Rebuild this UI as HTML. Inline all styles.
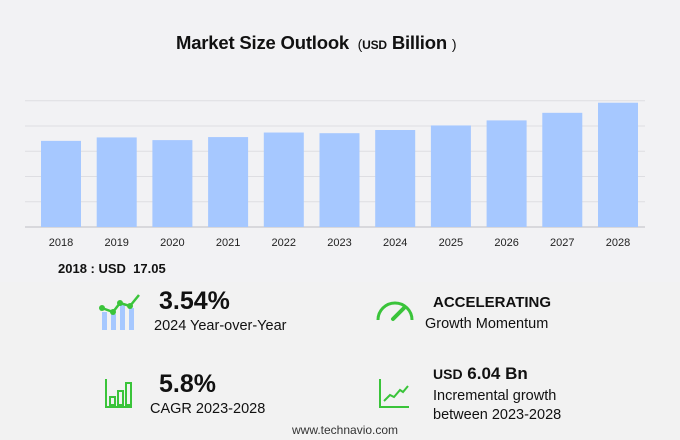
<!DOCTYPE html>
<html><head><meta charset="utf-8"><style>
body{margin:0;width:680px;height:440px;background:#f2f2f4;font-family:"Liberation Sans",sans-serif;position:relative;overflow:hidden}
.t{position:absolute;white-space:nowrap;color:#111}
</style></head><body>
<div class="t" style="left:176px;top:32px;font-size:18.5px;font-weight:bold;letter-spacing:-0.2px">Market Size Outlook <span style="font-weight:normal;font-size:14px">&nbsp;(</span><span style="font-size:12px">USD</span> Billion <span style="font-weight:normal;font-size:14px">)</span></div>
<svg id="chart" width="680" height="260" style="position:absolute;left:0;top:0"></svg>
<div class="t" style="left:58px;top:261px;font-size:13px;font-weight:bold">2018 : USD&nbsp; 17.05</div>
<div style="position:absolute;left:0;top:282px;width:680px;height:158px;background:#f2f2f2"></div>
<svg width="46" height="40" style="position:absolute;left:99px;top:292px">
<rect x="3" y="20" width="5" height="18" fill="#a6c8ff"/><rect x="12" y="22" width="5" height="16" fill="#a6c8ff"/><rect x="21" y="12" width="5" height="26" fill="#a6c8ff"/><rect x="30" y="16" width="5" height="22" fill="#a6c8ff"/>
<polyline points="3,16 14,20 21,11 31,14 40,3" fill="none" stroke="#3ac43a" stroke-width="2.5"/>
<circle cx="3" cy="16" r="3" fill="#3ac43a"/><circle cx="14" cy="20" r="3" fill="#3ac43a"/><circle cx="21" cy="11" r="3" fill="#3ac43a"/><circle cx="31" cy="14" r="3" fill="#3ac43a"/></svg>
<div class="t" style="left:159px;top:287px;font-size:25px;font-weight:bold">3.54%</div>
<div class="t" style="left:154px;top:318px;font-size:14.5px">2024 Year-over-Year</div>
<svg width="40" height="24" style="position:absolute;left:375px;top:298px">
<path d="M3,22 A17,17 0 0 1 37,22" fill="none" stroke="#3ac43a" stroke-width="3"/><line x1="18" y1="21" x2="29" y2="10" stroke="#3ac43a" stroke-width="4" stroke-linecap="round"/></svg>
<div class="t" style="left:433px;top:294px;font-size:15px;font-weight:bold">ACCELERATING</div>
<div class="t" style="left:425px;top:316px;font-size:14.5px">Growth Momentum</div>
<svg width="30" height="30" style="position:absolute;left:104px;top:379px">
<path d="M2,0 V28 H28" fill="none" stroke="#3ac43a" stroke-width="2"/><rect x="6" y="18" width="5" height="8" fill="none" stroke="#3ac43a" stroke-width="2"/><rect x="14" y="12" width="5" height="14" fill="none" stroke="#3ac43a" stroke-width="2"/><rect x="22" y="4" width="5" height="22" fill="none" stroke="#3ac43a" stroke-width="2"/></svg>
<div class="t" style="left:159px;top:370px;font-size:25px;font-weight:bold">5.8%</div>
<div class="t" style="left:150px;top:401px;font-size:14.5px">CAGR 2023-2028</div>
<svg width="32" height="30" style="position:absolute;left:379px;top:379px">
<path d="M1,0 V28 H30" fill="none" stroke="#3ac43a" stroke-width="2"/><polyline points="5,22 11,16 15,18 21,11 24,13 29,7" fill="none" stroke="#3ac43a" stroke-width="2"/></svg>
<div class="t" style="left:433px;top:364px;font-size:17px;font-weight:bold"><span style="font-size:14px">USD</span> 6.04 Bn</div>
<div class="t" style="left:433px;top:387px;font-size:14.5px;line-height:19px">Incremental growth<br>between 2023-2028</div>
<div class="t" style="left:292px;top:423px;font-size:12px;color:#333">www.technavio.com</div>
<script>
const categories=["2018","2019","2020","2021","2022","2023","2024","2025","2026","2027","2028"];
const values=[17.05,17.73,17.2,17.8,18.7,18.57,19.2,20.1,21.1,22.6,24.6];
const gridTicks=[0,5,10,15,20,25];
const svg=document.getElementById('chart');
const NS="http://www.w3.org/2000/svg";
const y0=227, yTop=100.7, vMax=25, x0=41, pitch=55.7, bw=40;
const y=v=>y0-(v/vMax)*(y0-yTop);
const x=i=>x0+i*pitch;
gridTicks.forEach(t=>{const l=document.createElementNS(NS,'line');


l.setAttribute('x1',25);l.setAttribute('x2',645);l.setAttribute('y1',y(t));l.setAttribute('y2',y(t));
l.setAttribute('stroke',t===0?'#cfcfd4':'#dedee2');l.setAttribute('stroke-width',t===0?1.5:1);svg.appendChild(l);});
values.forEach((v,i)=>{const r=document.createElementNS(NS,'rect');


r.setAttribute('x',x(i));r.setAttribute('width',bw);r.setAttribute('y',y(v));r.setAttribute('height',y0-y(v));r.setAttribute('fill','#a6c8ff');svg.appendChild(r);
const tx=document.createElementNS(NS,'text');


tx.setAttribute('x',x(i)+bw/2);tx.setAttribute('y',246);tx.setAttribute('text-anchor','middle');tx.setAttribute('font-size','11');tx.setAttribute('fill','#222');tx.setAttribute('font-family','Liberation Sans, sans-serif');tx.textContent=categories[i];svg.appendChild(tx);});
</script>
</body></html>
